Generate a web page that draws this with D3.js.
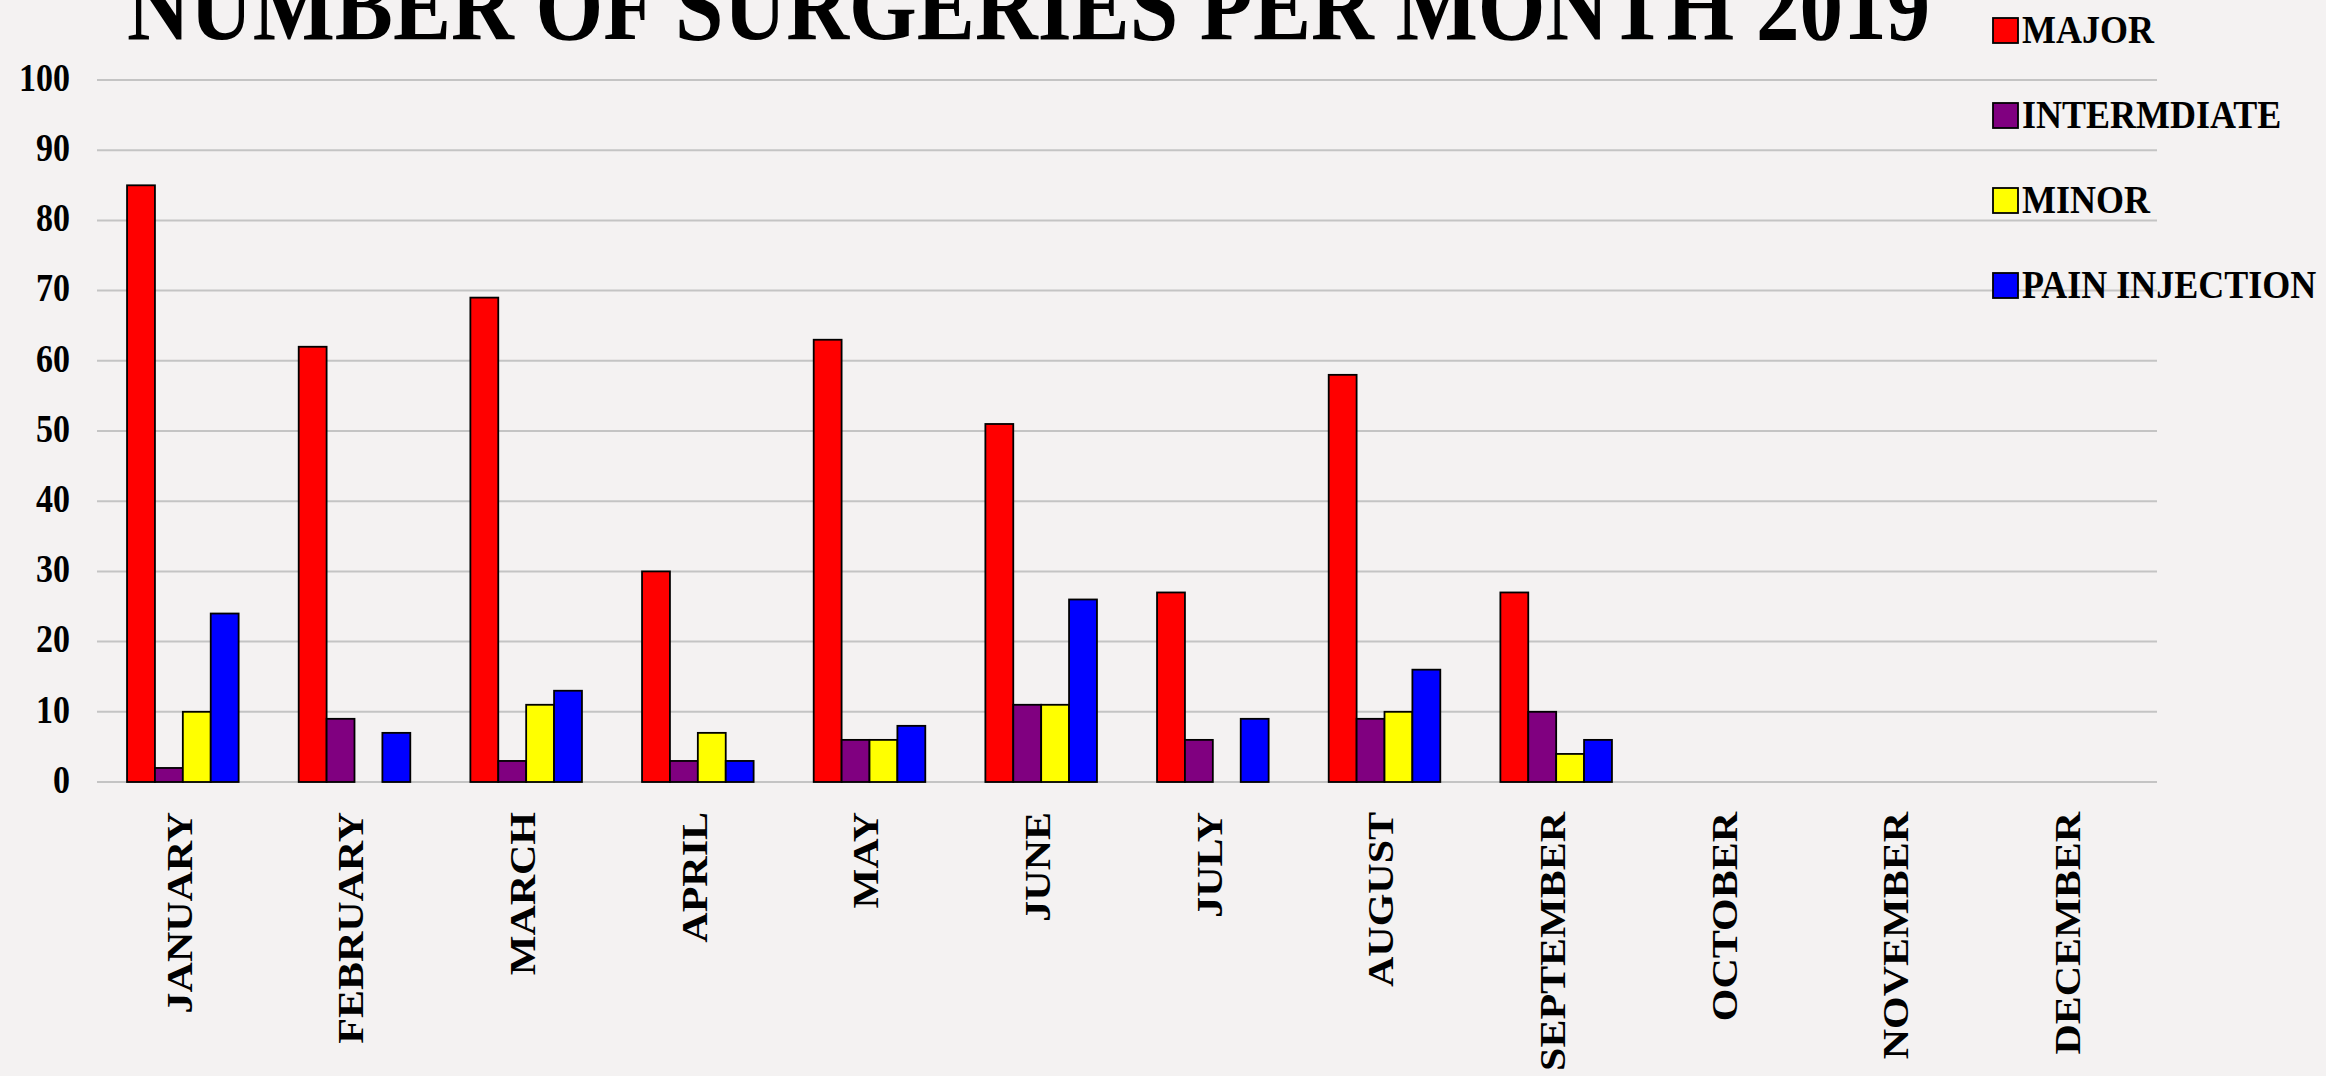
<!DOCTYPE html>
<html>
<head>
<meta charset="utf-8">
<script src="https://cdn.jsdelivr.net/npm/d3@7"></script>
<style>
  html, body { margin: 0; padding: 0; background: #f4f2f2; }
  svg { display: block; }
  text { font-family: "Liberation Serif", "Times New Roman", serif; font-weight: bold; fill: #000; }
</style>
</head>
<body>
<script>
const titleText = "NUMBER OF SURGERIES PER MONTH 2019";
const months = ["JANUARY","FEBRUARY","MARCH","APRIL","MAY","JUNE","JULY","AUGUST","SEPTEMBER","OCTOBER","NOVEMBER","DECEMBER"];
const seriesNames = ["MAJOR","INTERMDIATE","MINOR","PAIN INJECTION"];
const seriesColors = ["#ff0000","#800080","#ffff00","#0000ff"];
const major        = [85, 62, 69, 30, 63, 51, 27, 58, 27, null, null, null];
const intermediate = [2, 9, 3, 3, 6, 11, 6, 9, 10, null, null, null];
const minor        = [10, 0, 11, 7, 6, 11, 0, 10, 4, null, null, null];
const painInjection= [24, 7, 13, 3, 8, 26, 9, 16, 6, null, null, null];
const yTicks = [0,10,20,30,40,50,60,70,80,90,100];

const seriesValues = [major, intermediate, minor, painInjection];

const W = 2326, H = 1076;
const svg = d3.select("body").append("svg").attr("width", W).attr("height", H);
svg.append("rect").attr("width", W).attr("height", H).attr("fill", "#f4f2f2");

const x0 = d3.scaleBand().domain(months).range([97, 2157]).paddingInner(0.35).paddingOuter(0.175);
const x1 = d3.scaleBand().domain(seriesNames).range([0, x0.bandwidth()]).padding(0);
const y = d3.scaleLinear().domain([0, 100]).range([782, 80]);

// gridlines
svg.append("g").selectAll("line").data(yTicks).join("line")
  .attr("x1", 97).attr("x2", 2157)
  .attr("y1", d => y(d)).attr("y2", d => y(d))
  .attr("stroke", "#c4c4c4").attr("stroke-width", 2);

// y axis
const yAxis = svg.append("g").attr("transform", "translate(70,0)")
  .call(d3.axisLeft(y).tickValues(yTicks).tickSize(0).tickPadding(0));
yAxis.select(".domain").remove();
yAxis.selectAll("text")
  .attr("x", 0).attr("dy", null).attr("y", 8.5)
  .attr("transform", "scale(1,1.2)")
  .style("font-size", "34px").style("font-family", "'Liberation Serif','Times New Roman',serif").style("font-weight", "bold")
  .attr("text-anchor", "end");

// bars
const data = [];
months.forEach((m, i) => {
  seriesNames.forEach((s, j) => {
    const v = seriesValues[j][i];
    if (v != null && v > 0) data.push({month: m, series: s, value: v, color: seriesColors[j]});
  });
});
svg.append("g").selectAll("rect").data(data).join("rect")
  .attr("x", d => x0(d.month) + x1(d.series))
  .attr("y", d => y(d.value))
  .attr("width", x1.bandwidth())
  .attr("height", d => y(0) - y(d.value))
  .attr("fill", d => d.color)
  .attr("stroke", "#000").attr("stroke-width", 1.8);

// x axis labels
const xAxis = svg.append("g").attr("transform", "translate(0,812)")
  .call(d3.axisBottom(x0).tickSize(0).tickPadding(0));
xAxis.select(".domain").remove();
xAxis.selectAll("text")
  .attr("y", 0).attr("x", 0).attr("dy", "0.25em")
  .attr("transform", "rotate(-90) scale(1.2,1)")
  .attr("text-anchor", "end")
  .style("font-size", "35px").style("font-family", "'Liberation Serif','Times New Roman',serif").style("font-weight", "bold");

// title
svg.append("text")
  .attr("transform", "translate(127,39) scale(1,1.15)")
  .attr("textLength", 1803).attr("lengthAdjust", "spacingAndGlyphs")
  .style("font-size", "87px")
  .text(titleText);

// legend
const leg = svg.append("g").selectAll("g").data(seriesNames).join("g");
leg.append("rect")
  .attr("x", 1993).attr("y", (d, i) => 18 + i * 85)
  .attr("width", 25).attr("height", 25)
  .attr("fill", (d, i) => seriesColors[i])
  .attr("stroke", "#000").attr("stroke-width", 1.8);
leg.append("text")
  .attr("transform", (d, i) => `translate(2022,${43 + i * 85}) scale(1,1.1)`)
  .style("font-size", "36px")
  .text(d => d);
</script>
</body>
</html>
